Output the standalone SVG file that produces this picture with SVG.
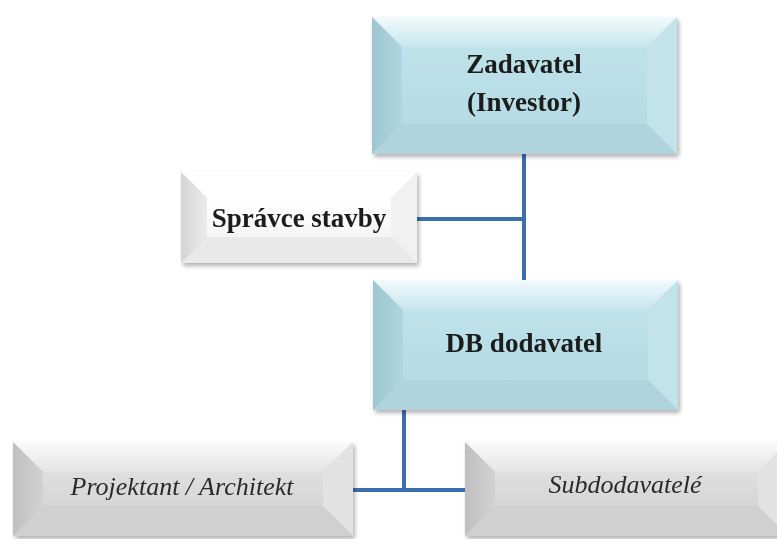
<svg xmlns="http://www.w3.org/2000/svg" width="777" height="539" viewBox="0 0 777 539">
  <defs>
    <filter id="shadow" x="-5%" y="-5%" width="112%" height="120%">
      <feDropShadow dx="2" dy="3" stdDeviation="2" flood-color="#000" flood-opacity="0.3"/>
    </filter>
    <linearGradient id="blueTop" x1="0" y1="0" x2="0" y2="1">
      <stop offset="0" stop-color="#f2fafc"/>
      <stop offset="1" stop-color="#c6e6ed"/>
    </linearGradient>
    <linearGradient id="blueFace" x1="0" y1="0" x2="0" y2="1">
      <stop offset="0" stop-color="#bfe2ea"/>
      <stop offset="1" stop-color="#b5dbe4"/>
    </linearGradient>
    <linearGradient id="blueLeft" x1="0" y1="0" x2="1" y2="0">
      <stop offset="0" stop-color="#9dc6d0"/>
      <stop offset="1" stop-color="#b0d6df"/>
    </linearGradient>
    <linearGradient id="grayTop" x1="0" y1="0" x2="0" y2="1">
      <stop offset="0" stop-color="#fafafa"/>
      <stop offset="1" stop-color="#e4e4e4"/>
    </linearGradient>
    <linearGradient id="grayFace" x1="0" y1="0" x2="0" y2="1">
      <stop offset="0" stop-color="#dfdfdf"/>
      <stop offset="1" stop-color="#d6d6d6"/>
    </linearGradient>
    <linearGradient id="grayLeft" x1="0" y1="0" x2="1" y2="0">
      <stop offset="0" stop-color="#bfbfbf"/>
      <stop offset="1" stop-color="#d2d2d2"/>
    </linearGradient>
    <linearGradient id="whiteFace" x1="0" y1="0" x2="0" y2="1">
      <stop offset="0" stop-color="#ffffff"/>
      <stop offset="1" stop-color="#f5f5f5"/>
    </linearGradient>
    <linearGradient id="whiteLeft" x1="0" y1="0" x2="1" y2="0">
      <stop offset="0" stop-color="#d4d4d4"/>
      <stop offset="1" stop-color="#ebebeb"/>
    </linearGradient>
  </defs>
  <style>
    .box { filter: url(#shadow); }
    .blue .top { fill: url(#blueTop); }
    .blue .face { fill: url(#blueFace); }
    .blue .left { fill: url(#blueLeft); }
    .blue .right { fill: #c3e3ea; }
    .blue .bottom { fill: #afd4dd; }
    .gray .top { fill: url(#grayTop); }
    .gray .face { fill: url(#grayFace); }
    .gray .left { fill: url(#grayLeft); }
    .gray .right { fill: #e2e2e2; }
    .gray .bottom { fill: #d0d0d0; }
    .white .top { fill: #ffffff; }
    .white .face { fill: url(#whiteFace); }
    .white .left { fill: url(#whiteLeft); }
    .white .right { fill: #f1f1f1; }
    .white .bottom { fill: #e9e9e9; }
    .lbl { font-family: "Liberation Serif", "Times New Roman", serif; text-anchor: middle; }
    .bold { font-weight: bold; font-size: 27px; fill: #1a1a1a; }
    .ital { font-style: italic; font-size: 26px; fill: #2a2a2a; }
    .conn { stroke: #3d6fae; stroke-width: 4; fill: none; }
  </style>

  <rect width="777" height="539" fill="#ffffff"/>

  <!-- connectors -->
  <g id="connectors">
    <path class="conn" d="M524 154 V280"/>
    <path class="conn" d="M417 219 H524"/>
    <path class="conn" d="M404 410 V490"/>
    <path class="conn" d="M353 490 H465"/>
  </g>

  <!-- Zadavatel (Investor): x 372..677, y 17..154, bevel 30 -->
  <g id="zadavatel" class="box blue">
    <polygon class="top" points="372,17 677,17 647,47 402,47"/>
    <polygon class="right" points="677,17 677,154 647,124 647,47"/>
    <polygon class="bottom" points="372,154 677,154 647,124 402,124"/>
    <polygon class="left" points="372,17 402,47 402,124 372,154"/>
    <rect class="face" x="402" y="47" width="245" height="77"/>
    <text class="lbl bold" x="524" y="73">Zadavatel</text>
    <text class="lbl bold" x="524" y="111">(Investor)</text>
  </g>

  <!-- Správce stavby: x 181..417, y 172..263, bevel 26 -->
  <g id="spravce" class="box white">
    <polygon class="top" points="181,172 417,172 391,198 207,198"/>
    <polygon class="right" points="417,172 417,263 391,237 391,198"/>
    <polygon class="bottom" points="181,263 417,263 391,237 207,237"/>
    <polygon class="left" points="181,172 207,198 207,237 181,263"/>
    <rect class="face" x="207" y="198" width="184" height="39"/>
    <text class="lbl bold" x="299" y="227">Správce stavby</text>
  </g>

  <!-- DB dodavatel: x 373..678, y 280..410, bevel 30 -->
  <g id="db-dodavatel" class="box blue">
    <polygon class="top" points="373,280 678,280 648,310 403,310"/>
    <polygon class="right" points="678,280 678,410 648,380 648,310"/>
    <polygon class="bottom" points="373,410 678,410 648,380 403,380"/>
    <polygon class="left" points="373,280 403,310 403,380 373,410"/>
    <rect class="face" x="403" y="310" width="245" height="70"/>
    <text class="lbl bold" x="524" y="352">DB dodavatel</text>
  </g>

  <!-- Projektant / Architekt: x 13..353, y 442..536, bevel 30 -->
  <g id="projektant" class="box gray">
    <polygon class="top" points="13,442 353,442 323,472 43,472"/>
    <polygon class="right" points="353,442 353,536 323,506 323,472"/>
    <polygon class="bottom" points="13,536 353,536 323,506 43,506"/>
    <polygon class="left" points="13,442 43,472 43,506 13,536"/>
    <rect class="face" x="43" y="472" width="280" height="34"/>
    <text class="lbl ital" x="182" y="495">Projektant / Architekt</text>
  </g>

  <!-- Subdodavatelé: x 465..788, y 442..536, bevel 30 -->
  <g id="subdodavatele" class="box gray">
    <polygon class="top" points="465,442 788,442 758,472 495,472"/>
    <polygon class="right" points="788,442 788,536 758,506 758,472"/>
    <polygon class="bottom" points="465,536 788,536 758,506 495,506"/>
    <polygon class="left" points="465,442 495,472 495,506 465,536"/>
    <rect class="face" x="495" y="472" width="263" height="34"/>
    <text class="lbl ital" x="625" y="493">Subdodavatelé</text>
  </g>
</svg>
